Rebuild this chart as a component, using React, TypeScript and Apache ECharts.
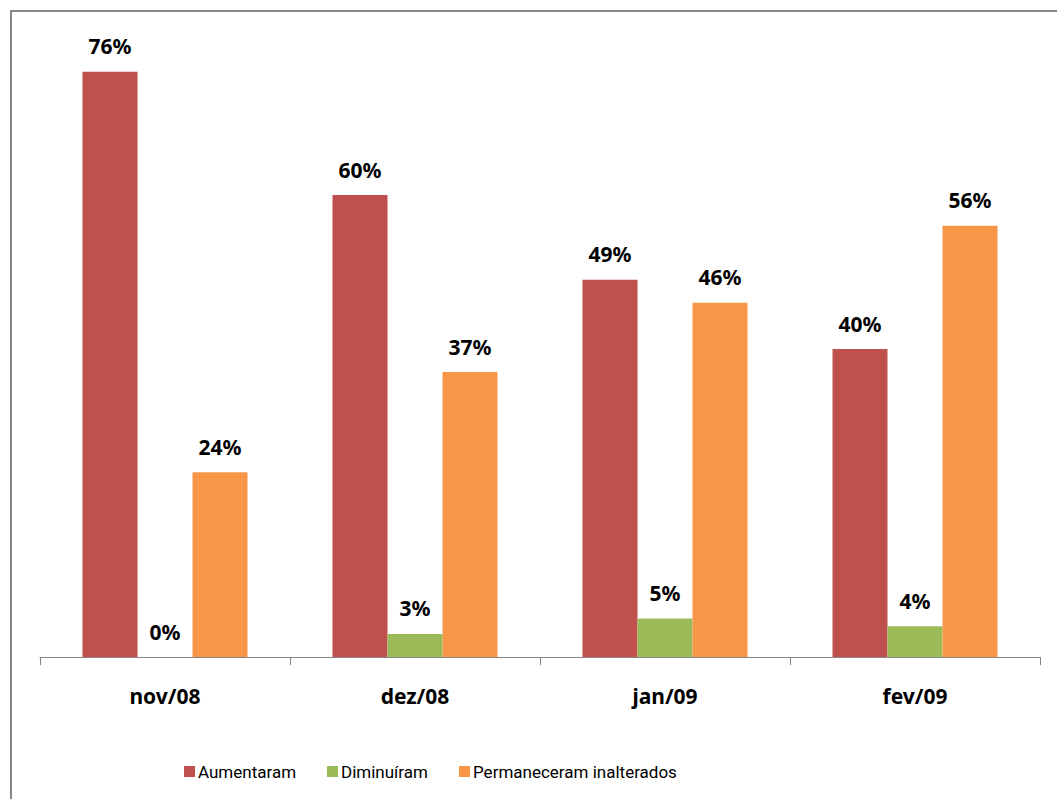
import React, { useEffect, useRef } from "react";
import * as echarts from "echarts";

const categories = ["nov/08", "dez/08", "jan/09", "fev/09"];
const seriesNames = ["Aumentaram", "Diminuíram", "Permaneceram inalterados"];
const aumentaram = [76, 60, 49, 40];
const diminuiram = [0, 3, 5, 4];
const permaneceram = [24, 37, 46, 56];
const colors = ["#C0504D", "#9BBB59", "#F79646"];

export default function App() {
  const ref = useRef<HTMLDivElement>(null);
  useEffect(() => {
    if (!ref.current) return;
    const chart = echarts.init(ref.current, null, { renderer: "svg" });
    const font = '"Noto Sans", "Open Sans", sans-serif';
    const legendFont = 'Roboto, "Noto Sans", sans-serif';
    const labelCfg = {
      show: true,
      position: "top",
      distance: 15,
      formatter: "{c}%",
      fontFamily: font,
      fontWeight: "bold",
      fontSize: 21,
      color: "#000",
    };
    const legendLefts = [179, 322, 454];
    const dataSets = [aumentaram, diminuiram, permaneceram];
    chart.setOption({
      animation: false,
      backgroundColor: "#ffffff",
      grid: { left: 40, right: 17, top: 41, bottom: 142, containLabel: false },
      graphic: [
        {
          type: "rect",
          shape: { x: 11, y: 11, width: 1200, height: 900 },
          style: { fill: "none", stroke: "#868686", lineWidth: 2 },
          silent: true,
          z: -1,
        },
      ],
      legend: seriesNames.map((n, i) => ({
        data: [n],
        left: legendLefts[i],
        top: 758,
        itemWidth: 11,
        itemHeight: 11,
        itemGap: 0,
        icon: "rect",
        textStyle: { fontFamily: legendFont, fontSize: 17, color: "#000", padding: [0, 0, 0, -2] },
        selectedMode: false,
      })),
      xAxis: {
        type: "category",
        data: categories,
        axisLine: { lineStyle: { color: "#868686", width: 1 } },
        axisTick: { show: true, interval: 0, length: 8, lineStyle: { color: "#868686", width: 1 } },
        axisLabel: {
          margin: 28,
          fontFamily: font,
          fontWeight: "bold",
          fontSize: 21,
          color: "#000",
        },
      },
      yAxis: {
        type: "value",
        min: 0,
        max: 80,
        show: false,
        splitLine: { show: false },
      },
      series: seriesNames.map((n, i) => ({
        name: n,
        type: "bar",
        data: dataSets[i],
        barGap: "0%",
        barCategoryGap: "34%",
        itemStyle: { color: colors[i] },
        label: labelCfg,
      })),
    });
    return () => chart.dispose();
  }, []);
  return (
    <div
      ref={ref}
      style={{ position: "absolute", left: 0, top: 0, width: 1057, height: 799 }}
    />
  );
}
